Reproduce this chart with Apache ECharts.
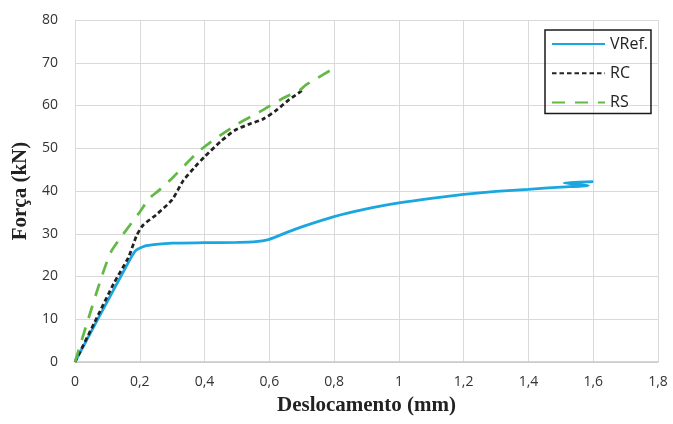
<!DOCTYPE html>
<html>

<head>
    <meta charset="utf-8">
    <title>ECharts</title>
    <script src="https://cdn.jsdelivr.net/npm/echarts@6/dist/echarts.min.js"></script>
</head>

<body style="margin:0">
    <div id="main" style="width: 673px;height:424px;"></div>
    <script type="text/javascript">
        // Deslocamento (mm) / Força (kN)
        let vrefX = [0, 0.05, 0.1, 0.15, 0.185, 0.215, 0.25, 0.3, 0.4, 0.5, 0.55, 0.6, 0.65, 0.7, 0.8, 0.9, 1.0, 1.1, 1.2, 1.3, 1.4, 1.5, 1.585, 1.51, 1.6]
        let vrefY = [0, 7.1, 14.2, 21.2, 25.9, 27.1, 27.5, 27.8, 27.9, 28.0, 28.1, 28.7, 30.2, 31.6, 34.0, 35.8, 37.2, 38.3, 39.2, 39.9, 40.4, 40.9, 41.3, 41.9, 42.2]

        let rcX = [0, 0.06, 0.12, 0.165, 0.19, 0.21, 0.25, 0.3, 0.334, 0.37, 0.4, 0.45, 0.494, 0.54, 0.58, 0.62, 0.66, 0.7, 0.705]
        let rcY = [0, 9.2, 18.4, 24.5, 29.5, 32.0, 34.4, 38.0, 42.4, 45.6, 48.0, 51.6, 54.2, 55.7, 56.8, 58.8, 61.3, 63.5, 64.1]

        let rsX = [0, 0.04, 0.08, 0.11, 0.14, 0.2, 0.23, 0.26, 0.3, 0.375, 0.42, 0.5, 0.57, 0.633, 0.653, 0.694, 0.713, 0.746, 0.79]
        let rsY = [0, 9.8, 19.4, 25.6, 29.0, 35.1, 38.3, 40.2, 43.0, 48.8, 51.5, 55.6, 58.5, 61.3, 62.1, 63.6, 64.8, 66.3, 68.3]

        let xTicks = { min: 0, max: 1.8, interval: 0.2 }
        let yTicks = { min: 0, max: 80, interval: 10 }

        function pares(xs, ys) {
            let out = []
            for (let i = 0; i < xs.length; i++) {
                out.push([xs[i], ys[i]])
            }
            return out
        }

        let myChart = echarts.init(document.getElementById('main'));

        let option = {
            animation: false,
            backgroundColor: '#fff',
            grid: {
                left: 75,
                right: 15,
                top: 20,
                bottom: 62
            },
            legend: {
                orient: 'vertical',
                left: 545,
                top: 30,
                padding: [6, 3, 3, 6],
                itemWidth: 53,
                itemHeight: 14,
                itemGap: 13.3,
                borderColor: '#1a1a1a',
                borderWidth: 1.5,
                // só a linha, sem o símbolo redondo
                itemStyle: { opacity: 0 },
                textStyle: {
                    fontFamily: 'Open Sans',
                    fontSize: 16,
                    color: '#222'
                },
                data: ['VRef.', 'RC', 'RS']
            },
            xAxis: {
                type: 'value',
                min: xTicks.min,
                max: xTicks.max,
                interval: xTicks.interval,
                name: 'Deslocamento (mm)',
                nameLocation: 'middle',
                nameGap: 33,
                nameTextStyle: {
                    fontFamily: 'Liberation Serif',
                    fontWeight: 'bold',
                    fontSize: 21,
                    color: '#222'
                },
                axisLine: { lineStyle: { color: '#c8c8c8', width: 1.5 } },
                axisTick: { show: false },
                axisLabel: {
                    margin: 13,
                    fontFamily: 'Open Sans',
                    fontSize: 14,
                    color: '#333',
                    formatter: function (v) {
                        return String(+v.toFixed(1)).replace('.', ',')
                    }
                },
                splitLine: { show: true, lineStyle: { color: '#d9d9d9', width: 1 } }
            },
            yAxis: {
                type: 'value',
                min: yTicks.min,
                max: yTicks.max,
                interval: yTicks.interval,
                name: 'Força (kN)',
                nameLocation: 'middle',
                nameGap: 41,
                nameTextStyle: {
                    fontFamily: 'Liberation Serif',
                    fontWeight: 'bold',
                    fontSize: 21,
                    color: '#222'
                },
                axisLine: { show: true, lineStyle: { color: '#d9d9d9', width: 1 } },
                axisTick: { show: false },
                axisLabel: {
                    margin: 17,
                    fontFamily: 'Open Sans',
                    fontSize: 14,
                    color: '#333'
                },
                splitLine: { show: true, lineStyle: { color: '#d9d9d9', width: 1 } }
            },
            series: [
                {
                    name: 'VRef.',
                    type: 'line',
                    symbol: 'none',
                    smooth: 0.2,
                    data: pares(vrefX, vrefY),
                    lineStyle: { color: '#1aa7e0', width: 2.75 },
                    itemStyle: { color: '#1aa7e0' },
                    z: 2
                },
                {
                    name: 'RC',
                    type: 'line',
                    symbol: 'none',
                    smooth: 0.25,
                    data: pares(rcX, rcY),
                    lineStyle: { color: '#222', width: 2.75, type: [4.5, 3] },
                    itemStyle: { color: '#222' },
                    z: 3
                },
                {
                    name: 'RS',
                    type: 'line',
                    symbol: 'none',
                    smooth: 0.25,
                    data: pares(rsX, rsY),
                    lineStyle: { color: '#62b946', width: 2.75, type: [13, 10] },
                    itemStyle: { color: '#62b946' },
                    z: 4
                }
            ]
        };

        myChart.setOption(option);
    </script>
</body>

</html>
